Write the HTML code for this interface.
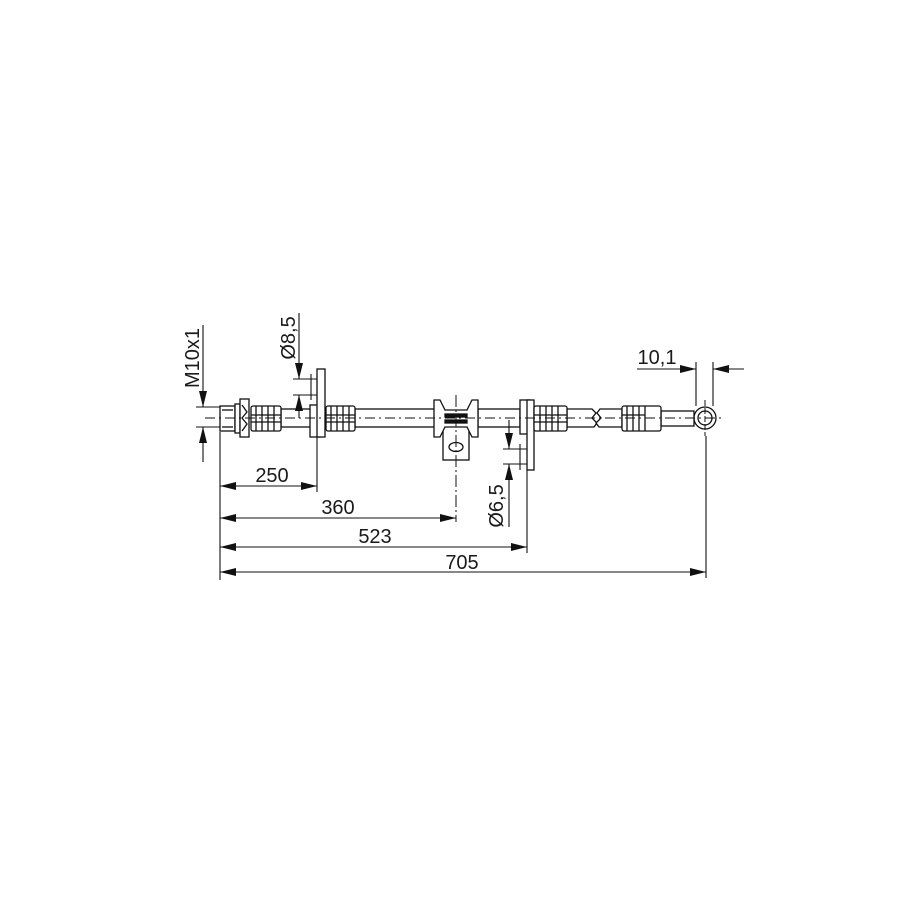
<!DOCTYPE html>
<html><head><meta charset="utf-8"><style>
html,body{margin:0;padding:0;background:#fff;}
svg{display:block;}
text{font-family:"Liberation Sans",Arial,sans-serif;font-size:20px;fill:#1a1a1a;}
</style></head><body>
<svg width="915" height="915" viewBox="0 0 915 915" xmlns="http://www.w3.org/2000/svg">
<g stroke="#111" stroke-width="1.3" fill="#fff">
<rect x="281" y="409" width="30" height="18"/>
<rect x="355" y="409" width="80" height="18"/>
<rect x="478" y="409" width="42" height="18"/>
<path d="M567,409 H592 L596,413 L592,418 L597,423 L594,427 H567 Z"/>
<path d="M622,409 H600 L597,413 L601,418 L596,423 L599,427 H622 Z"/>
<rect x="661" y="411" width="33" height="15"/>
<rect x="220" y="406" width="15" height="25"/>
<line x1="222" y1="410" x2="233" y2="410"/><line x1="222" y1="427" x2="233" y2="427"/>
<rect x="235" y="404" width="5" height="29"/>
<rect x="240" y="399" width="9" height="38"/>
<path d="M242,405 L247,412 L242,418 L247,424 L242,431" fill="none"/>
<rect x="251" y="406" width="30" height="25" rx="2"/>
<path d="M256,406 V431 M262,406 V431 M268,406 V431 M274,406 V431 M251,415 H281 M251,422 H281" fill="none"/>
<rect x="310" y="405" width="10" height="32"/>
<rect x="317" y="369" width="8" height="68"/>
<rect x="326" y="406" width="29" height="25" rx="2"/>
<path d="M331,406 V431 M337,406 V431 M343,406 V431 M349,406 V431 M326,415 H355 M326,422 H355" fill="none"/>
<rect x="443" y="425" width="26" height="35"/>
<ellipse cx="456" cy="447" rx="7" ry="4.5"/>
<path d="M434,400 H440 L445,410 H467 L472,400 H478 V437 H472 L467,427 H445 L440,437 H434 Z"/>
<rect x="445" y="414" width="22" height="3" fill="#111"/>
<rect x="445" y="420" width="22" height="3" fill="#111"/>
<rect x="520" y="400" width="10" height="34"/>
<rect x="527" y="400" width="7" height="70"/>
<rect x="534" y="406" width="33" height="25" rx="2"/>
<path d="M540,406 V431 M546,406 V431 M552,406 V431 M558,406 V431 M534,415 H567 M534,422 H567" fill="none"/>
<rect x="622" y="406" width="39" height="25" rx="2"/>
<path d="M627,406 V431 M633,406 V431 M639,406 V431 M645,406 V431 M622,415 H645" fill="none"/>
<circle cx="705" cy="418" r="11"/>
<circle cx="705" cy="418" r="7"/>
</g>
<g stroke="#111" stroke-width="1" fill="none">
<line x1="205" y1="418" x2="722" y2="418" stroke-dasharray="10,4,2,4"/>
<line x1="456" y1="395" x2="456" y2="522" stroke-dasharray="12,3,2,3"/>
<line x1="705" y1="400" x2="705" y2="436" stroke-dasharray="6,2"/>
</g>
<g stroke="#111" stroke-width="1.1" fill="none">
<line x1="220" y1="432" x2="220" y2="580"/>
<line x1="317" y1="437" x2="317" y2="492"/>
<line x1="527" y1="470" x2="527" y2="553"/>
<line x1="706" y1="436" x2="706" y2="578"/>
<line x1="220" y1="486" x2="317" y2="486"/>
<line x1="220" y1="518" x2="456" y2="518"/>
<line x1="220" y1="547" x2="527" y2="547"/>
<line x1="220" y1="572" x2="706" y2="572"/>
<line x1="196" y1="407" x2="220" y2="407"/><line x1="196" y1="427" x2="220" y2="427"/>
<line x1="203" y1="325" x2="203" y2="407"/>
<line x1="203" y1="462" x2="203" y2="427"/>
<line x1="293" y1="379" x2="317" y2="379"/><line x1="293" y1="395" x2="317" y2="395"/>
<line x1="299" y1="313" x2="299" y2="379"/>
<line x1="299" y1="418" x2="299" y2="395"/>
<line x1="311" y1="374" x2="311" y2="400"/>
<line x1="503" y1="449" x2="527" y2="449"/><line x1="503" y1="464" x2="527" y2="464"/>
<line x1="509" y1="420" x2="509" y2="449"/>
<line x1="509" y1="527" x2="509" y2="464"/>
<line x1="520" y1="444" x2="520" y2="470"/>
<line x1="696" y1="362" x2="696" y2="406"/><line x1="713" y1="362" x2="713" y2="406"/>
<line x1="637" y1="369" x2="696" y2="369"/>
<line x1="744" y1="369" x2="713" y2="369"/>
</g>
<g fill="#111" stroke="none">
<polygon points="220,486 236,482 236,490"/><polygon points="317,486 301,482 301,490"/>
<polygon points="220,518 236,514 236,522"/><polygon points="456,518 440,514 440,522"/>
<polygon points="220,547 236,543 236,551"/><polygon points="527,547 511,543 511,551"/>
<polygon points="220,572 236,568 236,576"/><polygon points="706,572 690,568 690,576"/>
<polygon points="203,407 199,391 207,391"/><polygon points="203,427 199,443 207,443"/>
<polygon points="299,379 295,363 303,363"/><polygon points="299,395 295,411 303,411"/>
<polygon points="509,449 505,433 513,433"/><polygon points="509,464 505,480 513,480"/>
<polygon points="696,369 680,365 680,373"/><polygon points="713,369 729,365 729,373"/>
</g>
<text x="272" y="482" text-anchor="middle">250</text>
<text x="338" y="514" text-anchor="middle">360</text>
<text x="375" y="543" text-anchor="middle">523</text>
<text x="462" y="569" text-anchor="middle">705</text>
<text x="657" y="364" text-anchor="middle">10,1</text>
<text transform="translate(199,358) rotate(-90)" text-anchor="middle">M10x1</text>
<text transform="translate(295,338) rotate(-90)" text-anchor="middle">Ø8,5</text>
<text transform="translate(503,506) rotate(-90)" text-anchor="middle">Ø6,5</text>
</svg>
</body></html>
